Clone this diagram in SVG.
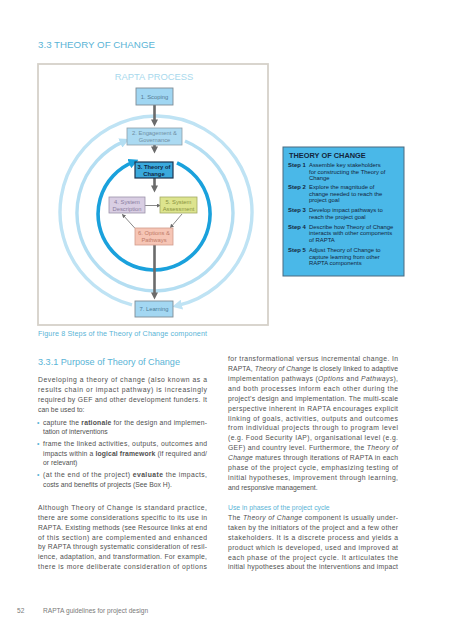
<svg xmlns="http://www.w3.org/2000/svg" width="453" height="640" viewBox="0 0 453 640">
<style>
text{font-family:"Liberation Sans",Arial,sans-serif}
.h{fill:#5ab4d6}
.b{font-size:6.8px;fill:#505050}
.nb text{font-size:5.8px;text-anchor:middle}
.toc{font-size:5.9px;fill:#13263d}
.sl{font-weight:bold}
.ga{stroke:#6b6b6b;stroke-width:2.6;fill:none}
.ta{stroke:#6b6b6b;stroke-width:0.8;fill:none}
</style>
<defs>
<marker id="gh" viewBox="0 0 10 10" refX="5" refY="5" markerWidth="8" markerHeight="7" markerUnits="userSpaceOnUse" orient="auto"><path d="M0,0L10,5L0,10z" fill="#6b6b6b"/></marker>
<marker id="th" viewBox="0 0 10 10" refX="8" refY="5" markerWidth="4" markerHeight="4" markerUnits="userSpaceOnUse" orient="auto"><path d="M0,0L10,5L0,10z" fill="#6b6b6b"/></marker>
<marker id="lo" viewBox="0 0 10 10" refX="4" refY="5" markerWidth="10" markerHeight="10" markerUnits="userSpaceOnUse" orient="auto"><path d="M0,0L10,5L0,10z" fill="#bfe3f4"/></marker>
<marker id="lm" viewBox="0 0 10 10" refX="4" refY="5" markerWidth="10" markerHeight="10" markerUnits="userSpaceOnUse" orient="auto"><path d="M0,0L10,5L0,10z" fill="#b4def2"/></marker>
<marker id="li" viewBox="0 0 10 10" refX="4" refY="5" markerWidth="10" markerHeight="10" markerUnits="userSpaceOnUse" orient="auto"><path d="M0,0L10,5L0,10z" fill="#1aa1dc"/></marker>
</defs>
<rect width="453" height="640" fill="#fff"/>
<text class="h" x="38" y="48" font-size="9.6" textLength="117" lengthAdjust="spacingAndGlyphs">3.3 THEORY OF CHANGE</text>
<rect x="38" y="64" width="230" height="261" fill="#fff" stroke="#d5d1c9" stroke-width="1.8"/>
<text x="154" y="80" font-size="9.4" fill="#a9d9ed" text-anchor="middle">RAPTA PROCESS</text>
<g id="connectors">
<path d="M132,304.95A96,96 0 1 1 178,305.45" stroke="#bfe3f4" stroke-width="3.4" fill="none" marker-end="url(#lo)"/>
<path d="M185,141A78,78 0 1 1 124,141.4" stroke="#b4def2" stroke-width="3.4" fill="none" marker-end="url(#lm)"/>
<path d="M177,162.9A56,56 0 1 1 133,162.1" stroke="#1aa1dc" stroke-width="3.6" fill="none" marker-end="url(#li)"/>
<path class="ga" d="M154.5,105V123" marker-end="url(#gh)"/>
<path class="ga" d="M154.5,145V150" marker-end="url(#gh)"/>
<path class="ga" d="M154.5,178V189" marker-end="url(#gh)"/>
<path class="ga" d="M154.5,245V296" marker-end="url(#gh)"/>
<path class="ta" d="M145,205.5H160" marker-end="url(#th)"/>
<path class="ta" d="M182,214L170.5,227.5" marker-end="url(#th)"/>
<path class="ta" d="M135,228.3L122.5,214.5" marker-end="url(#th)"/>
</g>
<g id="n1" class="nb"><rect x="136" y="88" width="37" height="17" fill="#a0d6f2" stroke="#7f8d96" stroke-width="0.9"/><text x="154.5" y="98.5" fill="#557a92">1. Scoping</text></g>
<g id="n2" class="nb"><rect x="127" y="128" width="55" height="17" fill="#abdaf2" stroke="#8f9ea8" stroke-width="0.8"/><text x="154.5" y="135" fill="#6f8ea2">2. Engagement &amp;</text><text x="154.5" y="142" fill="#6f8ea2">Governance</text></g>
<g id="n3" class="nb"><rect x="135" y="162" width="38" height="16" fill="#3ba9dc" stroke="#1b3550" stroke-width="1.2"/><text x="154" y="168.5" fill="#0e2744" font-weight="bold">3. Theory of</text><text x="154" y="175.5" fill="#0e2744" font-weight="bold">Change</text></g>
<g id="n4" class="nb"><rect x="109" y="197" width="36" height="16" fill="#d9cee3" stroke="#9c93aa" stroke-width="0.8"/><text x="127" y="203.5" fill="#8a7c9e">4. System</text><text x="127" y="210.5" fill="#8a7c9e">Description</text></g>
<g id="n5" class="nb"><rect x="160" y="197" width="37" height="16" fill="#dde48e" stroke="#a4aa64" stroke-width="0.8"/><text x="178.5" y="203.5" fill="#8a9340">5. System</text><text x="178.5" y="210.5" fill="#8a9340">Assessment</text></g>
<g id="n6" class="nb"><rect x="135" y="228" width="38" height="17" fill="#f6c5b5" stroke="#d29c8c" stroke-width="0.8"/><text x="154" y="234.5" fill="#c07a68">6. Options &amp;</text><text x="154" y="241.5" fill="#c07a68">Pathways</text></g>
<g id="n7" class="nb"><rect x="135" y="301" width="38" height="16" fill="#a3d7f2" stroke="#7f8d96" stroke-width="0.9"/><text x="154" y="311" fill="#4d7c99">7. Learning</text></g>
<g id="toc">
<rect x="283" y="147" width="121" height="129" fill="#4ab8e8" stroke="#4b6a80" stroke-width="1"/>
<text x="289" y="157.5" font-size="7.4" font-weight="bold" fill="#13263d">THEORY OF CHANGE</text>
<text class="toc sl" x="288" y="167">Step 1</text>
<text class="toc" x="309" y="167">Assemble key stakeholders</text>
<text class="toc" x="309" y="173.5">for constructing the Theory of</text>
<text class="toc" x="309" y="180">Change</text>
<text class="toc sl" x="288" y="189">Step 2</text>
<text class="toc" x="309" y="189">Explore the magnitude of</text>
<text class="toc" x="309" y="195.5">change needed to reach the</text>
<text class="toc" x="309" y="202">project goal</text>
<text class="toc sl" x="288" y="212">Step 3</text>
<text class="toc" x="309" y="212">Develop impact pathways to</text>
<text class="toc" x="309" y="218.5">reach the project goal</text>
<text class="toc sl" x="288" y="228.5">Step 4</text>
<text class="toc" x="309" y="228.5">Describe how Theory of Change</text>
<text class="toc" x="309" y="235">interacts with other components</text>
<text class="toc" x="309" y="241.5">of RAPTA</text>
<text class="toc sl" x="288" y="252">Step 5</text>
<text class="toc" x="309" y="252">Adjust Theory of Change to</text>
<text class="toc" x="309" y="258.5">capture learning from other</text>
<text class="toc" x="309" y="265">RAPTA components</text>
</g>
<text class="h" x="38" y="336" font-size="7.2" textLength="169" lengthAdjust="spacing">Figure 8 Steps of the Theory of Change component</text>
<text class="h" x="38" y="365" font-size="9.6" textLength="142" lengthAdjust="spacingAndGlyphs">3.3.1 Purpose of Theory of Change</text>
<g class="b">
<text x="38" y="382" textLength="169" lengthAdjust="spacing">Developing a theory of change (also known as a</text>
<text x="38" y="392" textLength="169" lengthAdjust="spacing">results chain or impact pathway) is increasingly</text>
<text x="38" y="402" textLength="169" lengthAdjust="spacing">required by GEF and other development funders. It</text>
<text x="38" y="411.5">can be used to:</text>
<text x="37" y="425" fill="#5ab4d6">•</text>
<text x="43" y="425" textLength="164" lengthAdjust="spacing">capture the <tspan font-weight="bold">rationale</tspan> for the design and implemen-</text>
<text x="43" y="434">tation of interventions</text>
<text x="37" y="446" fill="#5ab4d6">•</text>
<text x="43" y="446" textLength="164" lengthAdjust="spacing">frame the linked activities, outputs, outcomes and</text>
<text x="43" y="455.5" textLength="164" lengthAdjust="spacing">impacts within a <tspan font-weight="bold">logical framework</tspan> (if required and/</text>
<text x="43" y="465">or relevant)</text>
<text x="37" y="477" fill="#5ab4d6">•</text>
<text x="43" y="477" textLength="164" lengthAdjust="spacing">(at the end of the project) <tspan font-weight="bold">evaluate</tspan> the impacts,</text>
<text x="43" y="487">costs and benefits of projects (See Box H).</text>
<text x="38" y="510" textLength="169" lengthAdjust="spacing">Although Theory of Change is standard practice,</text>
<text x="38" y="519.5" textLength="169" lengthAdjust="spacing">there are some considerations specific to its use in</text>
<text x="38" y="529.5" textLength="169" lengthAdjust="spacing">RAPTA. Existing methods (see Resource links at end</text>
<text x="38" y="539.5" textLength="169" lengthAdjust="spacing">of this section) are complemented and enhanced</text>
<text x="38" y="549" textLength="169" lengthAdjust="spacing">by RAPTA through systematic consideration of resil-</text>
<text x="38" y="559" textLength="169" lengthAdjust="spacing">ience, adaptation, and transformation. For example,</text>
<text x="38" y="568.5" textLength="169" lengthAdjust="spacing">there is more deliberate consideration of options</text>
<text x="228" y="361" textLength="170" lengthAdjust="spacing">for transformational versus incremental change. In</text>
<text x="228" y="371" textLength="170" lengthAdjust="spacing">RAPTA, <tspan font-style="italic">Theory of Change</tspan> is closely linked to adaptive</text>
<text x="228" y="381" textLength="170" lengthAdjust="spacing">implementation pathways (<tspan font-style="italic">Options</tspan> and <tspan font-style="italic">Pathways</tspan>),</text>
<text x="228" y="391" textLength="170" lengthAdjust="spacing">and both processes inform each other during the</text>
<text x="228" y="400.5" textLength="170" lengthAdjust="spacing">project’s design and implementation. The multi-scale</text>
<text x="228" y="410.5" textLength="170" lengthAdjust="spacing">perspective inherent in RAPTA encourages explicit</text>
<text x="228" y="420.5" textLength="170" lengthAdjust="spacing">linking of goals, activities, outputs and outcomes</text>
<text x="228" y="430" textLength="170" lengthAdjust="spacing">from individual projects through to program level</text>
<text x="228" y="440" textLength="170" lengthAdjust="spacing">(e.g. Food Security IAP), organisational level (e.g.</text>
<text x="228" y="450" textLength="170" lengthAdjust="spacing">GEF) and country level. Furthermore, the <tspan font-style="italic">Theory of</tspan></text>
<text x="228" y="459.5" textLength="170" lengthAdjust="spacing"><tspan font-style="italic">Change</tspan> matures through iterations of RAPTA in each</text>
<text x="228" y="470" textLength="170" lengthAdjust="spacing">phase of the project cycle, emphasizing testing of</text>
<text x="228" y="480" textLength="170" lengthAdjust="spacing">initial hypotheses, improvement through learning,</text>
<text x="228" y="490">and responsive management.</text>
<text x="228" y="510" fill="#5ab4d6">Use in phases of the project cycle</text>
<text x="228" y="520" textLength="170" lengthAdjust="spacing">The <tspan font-style="italic">Theory of Change</tspan> component is usually under-</text>
<text x="228" y="530" textLength="170" lengthAdjust="spacing">taken by the initiators of the project and a few other</text>
<text x="228" y="540" textLength="170" lengthAdjust="spacing">stakeholders. It is a discrete process and yields a</text>
<text x="228" y="549.5" textLength="170" lengthAdjust="spacing">product which is developed, used and improved at</text>
<text x="228" y="559.5" textLength="170" lengthAdjust="spacing">each phase of the project cycle. It articulates the</text>
<text x="228" y="569" textLength="170" lengthAdjust="spacing">initial hypotheses about the interventions and impact</text>
</g>
<text x="17" y="613" font-size="6.6" fill="#7a7a7a">52</text>
<text x="43" y="613" font-size="6.6" fill="#7a7a7a">RAPTA guidelines for project design</text>
</svg>
